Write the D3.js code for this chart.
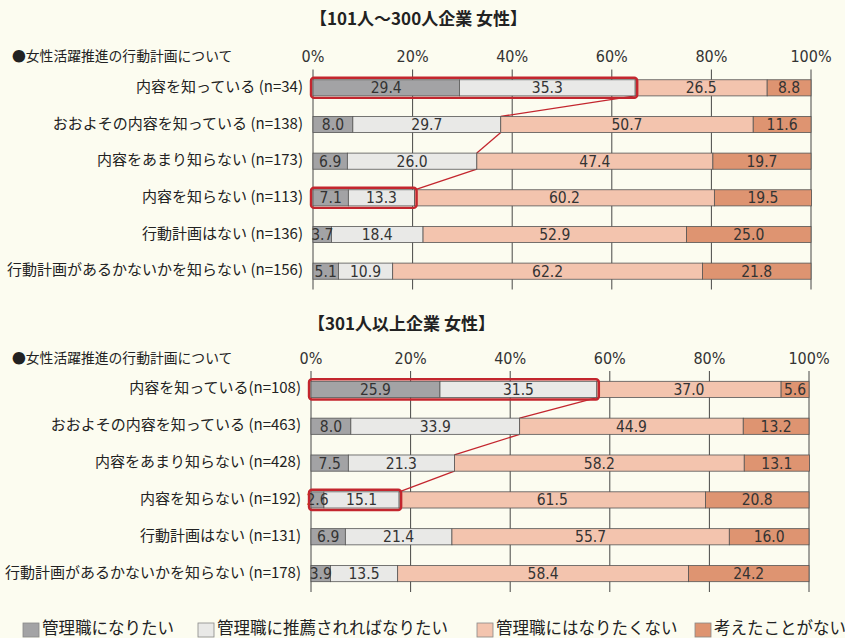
<!DOCTYPE html>
<html>
<head>
<meta charset="utf-8">
<script src="https://cdn.jsdelivr.net/npm/d3@7"></script>
<style>
  html, body { margin: 0; padding: 0; background: #fcfcf0; }
  svg { display: block; }
  .jp { font-family: "Noto Sans CJK JP", sans-serif; fill: #222; }
  .num { font-family: "Liberation Sans Narrow", "DejaVu Sans Condensed", "Roboto Condensed", sans-serif; fill: #333; }
</style>
</head>
<body>
<svg id="chart"></svg>
<script>
// Categories and values
const rowsTop = ["内容を知っている (n=34)", "おおよその内容を知っている (n=138)", "内容をあまり知らない (n=173)",
                 "内容を知らない (n=113)", "行動計画はない (n=136)", "行動計画があるかないかを知らない (n=156)"];
const valuesTop = [
    [29.4, 35.3, 26.5, 8.8],
    [8.0, 29.7, 50.7, 11.6],
    [6.9, 26.0, 47.4, 19.7],
    [7.1, 13.3, 60.2, 19.5],
    [3.7, 18.4, 52.9, 25.0],
    [5.1, 10.9, 62.2, 21.8]
];
const rowsBottom = ["内容を知っている(n=108)", "おおよその内容を知っている (n=463)", "内容をあまり知らない (n=428)",
                    "内容を知らない (n=192)", "行動計画はない (n=131)", "行動計画があるかないかを知らない (n=178)"];
const valuesBottom = [
    [25.9, 31.5, 37.0, 5.6],
    [8.0, 33.9, 44.9, 13.2],
    [7.5, 21.3, 58.2, 13.1],
    [2.6, 15.1, 61.5, 20.8],
    [6.9, 21.4, 55.7, 16.0],
    [3.9, 13.5, 58.4, 24.2]
];
const series = ["管理職になりたい", "管理職に推薦されればなりたい", "管理職にはなりたくない", "考えたことがない"];
const ticks = [0, 20, 40, 60, 80, 100];
const highlightRows = [0, 3];

const colors = ["#a3a3a5", "#e9e9e7", "#f3c4ae", "#de9471"];

const width = 845, height = 638;
const svg = d3.select("#chart").attr("width", width).attr("height", height);

function drawPanel(opt) {
    const g = svg.append("g");
    const x = d3.scaleLinear().domain([0, 100]).range([opt.x0, opt.x1]);
    const y = d3.scaleBand()
        .domain(d3.range(opt.rows.length))
        .range([opt.y0, opt.y1])
        .paddingInner(0.56)
        .paddingOuter(0.28);

    // title
    g.append("text")
        .attr("class", "jp")
        .attr("x", opt.titleX)
        .attr("y", opt.titleY)
        .attr("dominant-baseline", "middle")
        .style("font-size", "17px")
        .style("font-weight", "bold")
        .text(opt.title);

    // header
    g.append("text")
        .attr("class", "jp")
        .attr("x", 12)
        .attr("y", opt.y0 - 12)
        .attr("dominant-baseline", "middle")
        .style("font-size", "13.8px")
        .text("●女性活躍推進の行動計画について");

    // gridlines
    g.append("g").selectAll("line")
        .data(ticks)
        .join("line")
        .attr("x1", d => x(d)).attr("x2", d => x(d))
        .attr("y1", opt.y0).attr("y2", opt.y1)
        .attr("stroke", "#333")
        .attr("stroke-width", 0.9);

    // tick labels
    g.append("g").selectAll("text")
        .data(ticks)
        .join("text")
        .attr("class", "num")
        .attr("x", d => x(d))
        .attr("y", opt.y0 - 12)
        .attr("text-anchor", "middle")
        .attr("dominant-baseline", "middle")
        .style("font-size", "16px")
        .text(d => d + "%");

    // red connecting line through the first two segments' boundary
    const pts = [];
    [0, 1, 2, 3].forEach(i => {
        const c = opt.values[i][0] + opt.values[i][1];
        if (i > 0) pts.push([x(c), y(i)]);
        if (i < 3) pts.push([x(c), y(i) + y.bandwidth()]);
    });
    // bottom of row i to top of row i+1
    for (let k = 0; k < pts.length; k += 2) {
        g.append("line")
            .attr("x1", pts[k][0]).attr("y1", pts[k][1])
            .attr("x2", pts[k + 1][0]).attr("y2", pts[k + 1][1])
            .attr("stroke", "#c3262e")
            .attr("stroke-width", 1.3);
    }

    // bars
    opt.values.forEach((vals, i) => {
        const stack = d3.cumsum(vals);
        const row = g.append("g");
        row.selectAll("rect")
            .data(vals)
            .join("rect")
            .attr("x", (d, j) => x(stack[j] - d))
            .attr("y", y(i))
            .attr("width", d => x(d) - x(0))
            .attr("height", y.bandwidth())
            .attr("fill", (d, j) => colors[j])
            .attr("stroke", "#555")
            .attr("stroke-width", 0.8);

        row.selectAll("text")
            .data(vals)
            .join("text")
            .attr("class", "num")
            .attr("x", (d, j) => x(stack[j] - d / 2))
            .attr("y", y(i) + y.bandwidth() / 2 + 1)
            .attr("text-anchor", "middle")
            .attr("dominant-baseline", "middle")
            .style("font-size", "15.5px")
            .text(d => d.toFixed(1));

        // row label
        g.append("text")
            .attr("class", "jp")
            .attr("x", opt.x0 - 10)
            .attr("y", y(i) + y.bandwidth() / 2)
            .attr("text-anchor", "end")
            .attr("dominant-baseline", "middle")
            .style("font-size", "15px")
            .text(opt.rows[i]);
    });

    // highlight boxes
    highlightRows.forEach(i => {
        const c = opt.values[i][0] + opt.values[i][1];
        g.append("rect")
            .attr("x", x(0) - 2)
            .attr("y", y(i) - 2)
            .attr("width", x(c) - x(0) + 4)
            .attr("height", y.bandwidth() + 4)
            .attr("rx", 3)
            .attr("fill", "none")
            .attr("stroke", "#c3262e")
            .attr("stroke-width", 2.4);
    });
}

drawPanel({
    title: "【101人～300人企業 女性】", titleX: 310, titleY: 20,
    rows: rowsTop, values: valuesTop,
    x0: 313, x1: 811, y0: 69.5, y1: 289.5
});

drawPanel({
    title: "【301人以上企業 女性】", titleX: 308, titleY: 325,
    rows: rowsBottom, values: valuesBottom,
    x0: 311, x1: 809, y0: 371, y1: 592
});

// legend
const legendX = [23, 198, 477, 695];
const legend = svg.append("g").selectAll("g")
    .data(series)
    .join("g")
    .attr("transform", (d, i) => `translate(${legendX[i]},623)`);

legend.append("rect")
    .attr("width", 16).attr("height", 14)
    .attr("fill", (d, i) => colors[i])
    .attr("stroke", "#888")
    .attr("stroke-width", 0.8);

legend.append("text")
    .attr("class", "jp")
    .attr("x", 19)
    .attr("y", 7)
    .attr("dominant-baseline", "middle")
    .style("font-size", "16.5px")
    .text(d => d);
</script>
</body>
</html>
